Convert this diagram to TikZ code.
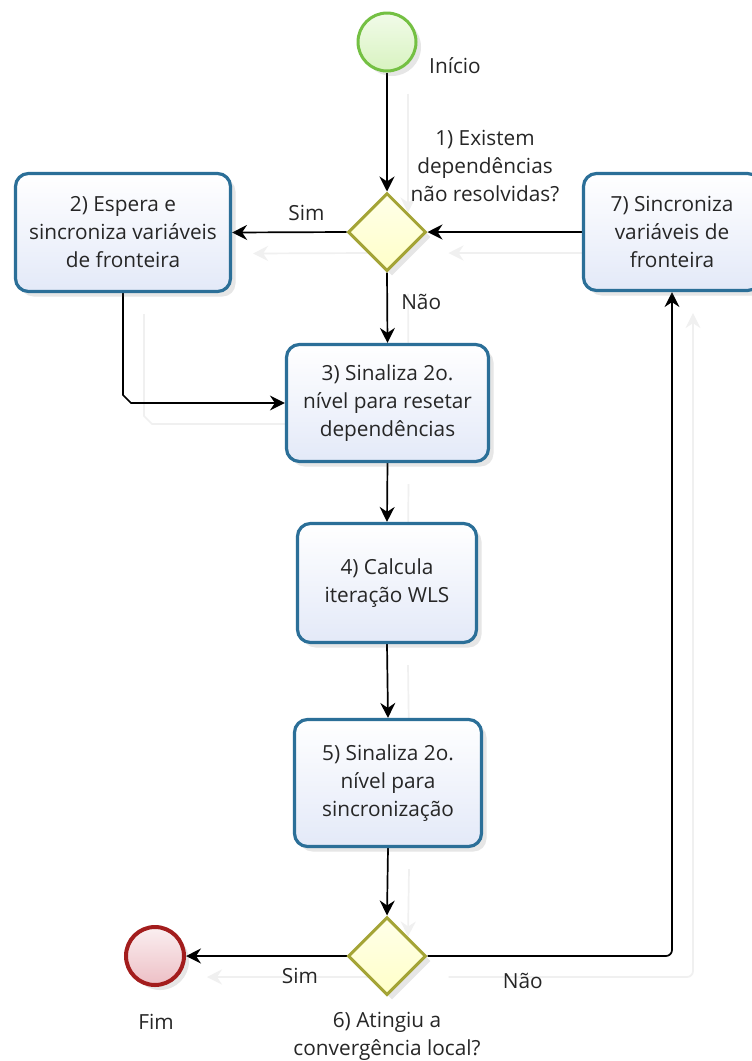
\documentclass[tikz,border=0pt]{standalone}
\usepackage{fontspec}
\setmainfont{Open Sans}
\usetikzlibrary{arrows.meta,shapes.geometric,shadows,calc,backgrounds}

\definecolor{taskline}{HTML}{2B6F98}
\definecolor{taskfill}{HTML}{E3E9F8}
\definecolor{gateline}{HTML}{A4A436}
\definecolor{gatefill}{HTML}{FFFFC8}
\definecolor{startline}{HTML}{74C043}
\definecolor{startfill}{HTML}{D8F3C0}
\definecolor{endline}{HTML}{A31D1D}
\definecolor{endfill}{HTML}{EDBFC5}
\definecolor{txt}{HTML}{262626}

\begin{document}
\begin{tikzpicture}[x=1pt,y=-1pt,
  font=\fontsize{20.8}{28}\selectfont,
  softshadow/.style={drop shadow={opacity=0.16, shadow xshift=5pt, shadow yshift=-5pt, fill=black!60}},
  task/.style={draw=taskline, line width=3.2pt, rounded corners=13pt,
    top color=white, bottom color=taskfill, text=txt, align=center,
    inner sep=0pt, softshadow},
  gate/.style={diamond, aspect=1, draw=gateline, line width=3pt,
    top color=white!60!gatefill, bottom color=gatefill,
    minimum width=78pt, minimum height=78pt, inner sep=0pt, softshadow},
  event/.style={circle, minimum size=58pt, inner sep=0pt, softshadow},
  lbl/.style={text=txt, align=center, inner sep=0pt},
  tip/.style={-{Stealth[length=15pt,width=15pt,inset=5pt]}},
  flow/.style={line width=1.7pt, tip,
    preaction={draw=black!6, line width=1.7pt, tip,
      transform canvas={shift={(21pt,-21pt)}}}},
]
\useasboundingbox (0,0) rectangle (752,1061);

% events
\node[event, line width=3pt, draw=startline, top color=startfill!35, bottom color=startfill] (s) at (387,42) {};
\node[event, line width=4pt, draw=endline, top color=endfill!25, bottom color=endfill] (e) at (155,956) {};
\node[lbl] (sl) at (455,66) {Início};
\node[lbl] (el) at (156,1022) {Fim};

% gateways
\node[gate] (d1) at (387,232) {};
\node[gate] (d6) at (387,956) {};
\node[lbl] (d1l) at (485,166) {1) Existem\\dependências\\não resolvidas?};
\node[lbl] (d6l) at (387,1036) {6) Atingiu a\\convergência local?};

% tasks
\node[task, minimum width=215pt, minimum height=118pt] (b2) at (123,232.5)
  {2) Espera e\\sincroniza variáveis\\de fronteira};
\node[task, minimum width=177pt, minimum height=117pt] (b7) at (672,232)
  {7) Sincroniza\\variáveis de\\fronteira};
\node[task, minimum width=202pt, minimum height=117pt] (b3) at (387.5,403)
  {3) Sinaliza 2o.\\nível para resetar\\dependências};
\node[task, minimum width=179pt, minimum height=119pt] (b4) at (387,583)
  {4) Calcula\\iteração WLS};
\node[task, minimum width=187pt, minimum height=127pt] (b5) at (388,783)
  {5) Sinaliza 2o.\\nível para\\sincronização};

% sequence flows
\begin{pgfonlayer}{background}
\fill[white] (0,0) rectangle (752,1061);
\draw[flow] (s.south) -- (d1.north);
\draw[flow] (d1.south) -- node[lbl, pos=.42, xshift=34pt] {Não} (b3.north);
\draw[flow] (d1.west) -- node[lbl, pos=.35, yshift=19pt] {Sim} (b2.east);
\draw[flow] (b7.west) -- (d1.east);
\draw[flow] (b2.south) -- ($(b2.south |- b3.west)+(0,-8)$)
  -- ($(b2.south |- b3.west)+(8,0)$) -- (b3.west);
\draw[flow] (b3.south) -- (b4.north);
\draw[flow] (b4.south) -- (b5.north);
\draw[flow] (b5.south) -- (d6.north);
\draw[flow] (d6.west) -- node[lbl, pos=.29, yshift=-20pt] {Sim} (e.east);
\draw[flow, rounded corners=6pt] (d6.east) -| node[lbl, pos=.195, yshift=-25pt] {Não} (b7.south);
\end{pgfonlayer}
\end{tikzpicture}
\end{document}
